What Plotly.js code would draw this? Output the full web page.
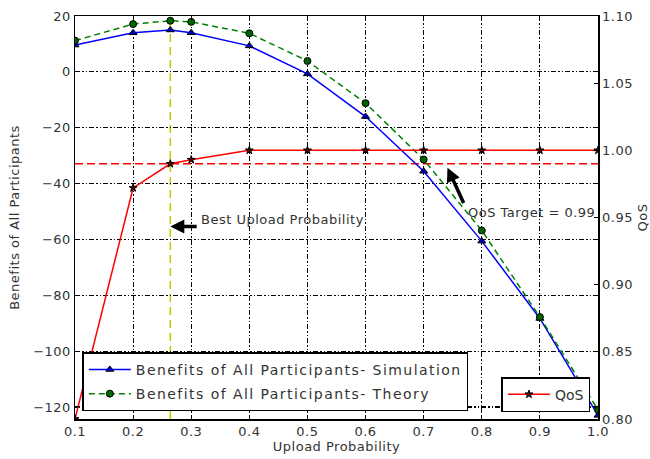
<!DOCTYPE html>
<html>
<head>
<meta charset="utf-8">
<script src="https://cdn.plot.ly/plotly-3.0.1.min.js"></script>
<style>
  html, body { margin: 0; padding: 0; background: #fff; }
  #chart { width: 650px; height: 459px; }
  /* slightly wider lettering for chart text (unscoped so text measurement sees it too) */
  .legendtext { letter-spacing: 1.45px; }
  .annotation-text, .xtitle, .ytitle, .y2title { letter-spacing: 0.5px; }
  .xtick text, .ytick text, .y2tick text { letter-spacing: 0.5px; }
</style>
</head>
<body>
<div id="chart"></div>
<script>
// Upload probabilities evaluated (includes the optimum found between 0.2 and 0.3)
const uploadProb = [0.1, 0.2, 0.264, 0.3, 0.4, 0.5, 0.6, 0.7, 0.8, 0.9, 1.0];
// Total benefit of all participants, simulated and analytical
const benefitSim = [9.6, 14.0, 15.0, 14.0, 9.3, -0.7, -16.0, -35.6, -60.6, -88.3, -123.0];
const benefitTheory = [11.2, 17.1, 18.3, 17.9, 13.8, 3.9, -11.2, -31.4, -56.8, -87.8, -121.0];
// Quality of service reached at each upload probability
const qosValues = [0.80, 0.972, 0.990, 0.993, 1.0, 1.0, 1.0, 1.0, 1.0, 1.0, 1.0];
// Reference levels
const bestUploadProb = 0.264;
const qosTarget = 0.99;

const FONT = 'DejaVu Sans, sans-serif';
const TXT = '#333';
const gridDash = '5px,2px,1.5px,2px,1.5px,2px';

const traces = [
  {
    x: uploadProb, y: benefitSim, yaxis: 'y',
    name: 'Benefits of All Participants- Simulation',
    mode: 'lines+markers', legend: 'legend', legendgroup: 'sim',
    line: { color: '#0000ff', width: 1.5 },
    marker: { symbol: 'triangle-up', size: 7, color: '#0000cc', line: { color: '#000', width: 1 } }
  },
  {
    x: uploadProb, y: benefitTheory, yaxis: 'y',
    name: 'Benefits of All Participants- Theory',
    mode: 'lines+markers', legend: 'legend', legendgroup: 'theory',
    line: { color: '#008000', width: 1.5, dash: '6px,4px' },
    marker: { symbol: 'circle', size: 7, color: '#006400', line: { color: '#000', width: 1 } }
  },
  {
    x: uploadProb, y: qosValues, yaxis: 'y2',
    name: 'QoS',
    mode: 'lines+markers', legend: 'legend2',
    line: { color: '#ff0000', width: 1.5 },
    marker: { symbol: 'star', size: 6, color: '#550000', line: { color: '#000', width: 1 } }
  }
];

const axisCommon = {
  showline: true, linecolor: '#000', linewidth: 1.5,
  ticks: 'inside', ticklen: 4, tickwidth: 1, tickcolor: '#000',
  tickfont: { family: FONT, size: 13, color: TXT },
  zeroline: false
};

const layout = {
  width: 650, height: 459,
  margin: { l: 75, r: 52, t: 16, b: 40 },
  paper_bgcolor: '#fff', plot_bgcolor: '#fff',
  font: { family: FONT, size: 13, color: TXT },
  showlegend: true,
  xaxis: Object.assign({}, axisCommon, {
    range: [0.1, 1.0], dtick: 0.1, tick0: 0.1, tickformat: '.1f',
    mirror: 'ticks',
    showgrid: true, gridcolor: '#000', gridwidth: 1.2, griddash: gridDash,
    title: { text: 'Upload Probability', font: { family: FONT, size: 13, color: TXT }, standoff: 3 }
  }),
  yaxis: Object.assign({}, axisCommon, {
    range: [-124.3, 20], dtick: 20, tick0: 0,
    showgrid: true, gridcolor: '#000', gridwidth: 1.2, griddash: gridDash,
    title: { text: 'Benefits of All Participants', font: { family: FONT, size: 13, color: TXT }, standoff: 10 }
  }),
  yaxis2: Object.assign({}, axisCommon, {
    overlaying: 'y', side: 'right',
    range: [0.80, 1.10], dtick: 0.05, tick0: 0.80, tickformat: '.2f',
    showgrid: false,
    title: { text: 'QoS', font: { family: FONT, size: 13, color: TXT }, standoff: 6 }
  }),
  legend: {
    x: 0.014, y: 0.019, xanchor: 'left', yanchor: 'bottom',
    bgcolor: '#fff', bordercolor: '#000', borderwidth: 1.5,
    font: { family: FONT, size: 14, color: TXT },
    traceorder: 'grouped', tracegroupgap: 3, itemwidth: 42
  },
  legend2: {
    x: 0.9855, y: 0.017, xanchor: 'right', yanchor: 'bottom',
    bgcolor: '#fff', bordercolor: '#000', borderwidth: 1.5,
    font: { family: FONT, size: 14, color: TXT }, itemwidth: 42
  },
  shapes: [
    // optimum upload probability
    { type: 'line', xref: 'x', yref: 'paper', x0: bestUploadProb, x1: bestUploadProb, y0: 0, y1: 1,
      line: { color: '#c8c800', width: 1.5, dash: '8px,5px' }, layer: 'between' },
    // QoS target level
    { type: 'line', xref: 'paper', yref: 'y2', x0: 0, x1: 1, y0: qosTarget, y1: qosTarget,
      line: { color: '#ff0000', width: 1.5, dash: '8px,4px' }, layer: 'between' }
  ],
  annotations: [
    { xref: 'x', yref: 'y', x: bestUploadProb, y: -55.4, axref: 'x', ayref: 'y', ax: 0.312, ay: -55.4,
      text: '', showarrow: true, arrowhead: 2, arrowsize: 0.8, arrowwidth: 3.5, arrowcolor: '#000' },
    { xref: 'x', yref: 'y', x: 0.313, y: -53, xanchor: 'left', yanchor: 'middle', showarrow: false,
      text: 'Best Upload Probability', font: { family: FONT, size: 13, color: TXT } },
    { xref: 'x', yref: 'y', x: 0.741, y: -34.3, axref: 'x', ayref: 'y', ax: 0.770, ay: -47.5,
      text: '', showarrow: true, arrowhead: 2, arrowsize: 0.8, arrowwidth: 3.5, arrowcolor: '#000' },
    { xref: 'x', yref: 'y', x: 0.772, y: -50.4, xanchor: 'left', yanchor: 'middle', showarrow: false,
      text: 'QoS Target = ' + qosTarget.toFixed(2), font: { family: FONT, size: 13, color: TXT } }
  ]
};

Plotly.newPlot('chart', traces, layout, { staticPlot: true, displayModeBar: false });
</script>
</body>
</html>
